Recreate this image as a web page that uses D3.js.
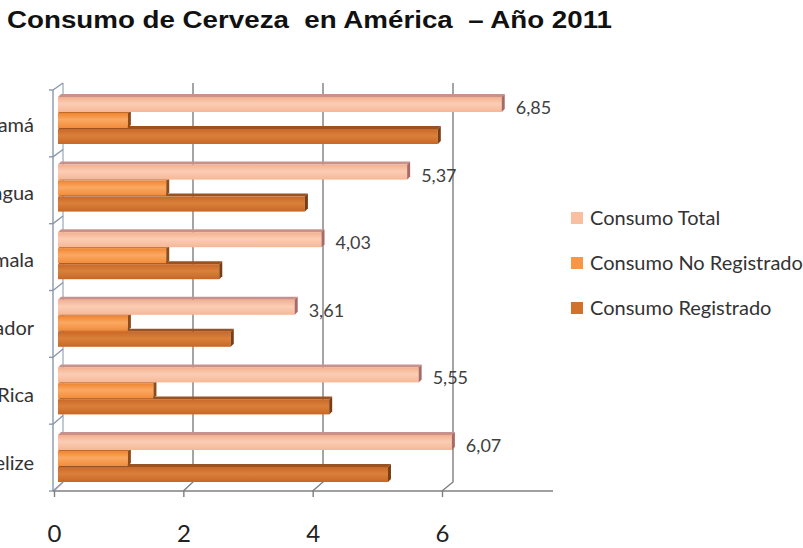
<!DOCTYPE html>
<html>
<head>
<meta charset="utf-8">
<script src="https://cdn.jsdelivr.net/npm/d3@7"></script>
<style>
  html, body { margin: 0; padding: 0; background: #ffffff; }
  svg { display: block; }
</style>
</head>
<body>
<svg id="chart" width="803" height="548"></svg>
<script>
// ---- data ----
const categories = ["Panamá", "Nicaragua", "Guatemala", "El Salvador", "Costa Rica", "Belize"];
const consumoTotal = [6.85, 5.37, 4.03, 3.61, 5.55, 6.07];
const consumoNoRegistrado = [1.0, 1.6, 1.6, 1.0, 1.4, 1.0];
const consumoRegistrado = [5.85, 3.77, 2.43, 2.61, 4.15, 5.07];
const seriesNames = ["Consumo Total", "Consumo No Registrado", "Consumo Registrado"];
const xTicks = [0, 2, 4, 6];
const titleText = "Consumo de Cerveza  en América  \u2013 Año 2011";

const seriesValues = [consumoTotal, consumoNoRegistrado, consumoRegistrado];
const seriesStyle = [
  { front: ["#f4b08f", "#fbcdb4", "#f6b797"], top: "#c8928a", cap: "#a86a64", legend: "#f9bfa0" },
  { front: ["#ef8530", "#fba862", "#f28c3a"], top: "#c06a2a", cap: "#8e4c1a", legend: "#f79646" },
  { front: ["#c9692a", "#da803a", "#c86727"], top: "#9a5220", cap: "#7a3e14", legend: "#d0722c" }
];

const svg = d3.select("#chart");

// ---- scales (front plane, back wall, bar plane) ----
const xFront = d3.scaleLinear().domain([0, 6]).range([54, 442]);
const xBack = d3.scaleLinear().domain([0, 6]).range([63, 453]);
const xBar = d3.scaleLinear().domain([0, 6]).range([64, 447.4]);
const yFront = d3.scaleBand().domain(categories).range([90, 491]);
const yBack = d3.scaleBand().domain(categories).range([83, 482]);
const yBar = d3.scaleBand().domain(categories).range([84.2, 489.8]).paddingInner(0.29).paddingOuter(0.145);
const ySub = d3.scaleBand().domain(seriesNames).range([0, yBar.bandwidth()]);

const depth = 3;

// gradients
const defs = svg.append("defs");
seriesStyle.forEach((s, i) => {
  const g = defs.append("linearGradient").attr("id", "g" + i)
    .attr("x1", 0).attr("y1", 0).attr("x2", 0).attr("y2", 1);
  g.append("stop").attr("offset", "0%").attr("stop-color", s.front[0]);
  g.append("stop").attr("offset", "45%").attr("stop-color", s.front[1]);
  g.append("stop").attr("offset", "100%").attr("stop-color", s.front[2]);
});

// ---- title ----
svg.append("text")
  .attr("x", 7).attr("y", 28)
  .attr("xml:space", "preserve")
  .style("white-space", "pre")
  .attr("font-family", "Liberation Sans, Arial, sans-serif")
  .attr("font-weight", "bold")
  .attr("font-size", 23)
  .attr("textLength", 605)
  .attr("lengthAdjust", "spacingAndGlyphs")
  .attr("fill", "#111")
  .text(titleText);

// ---- back wall gridlines & floor connectors ----
const grid = svg.append("g").attr("stroke-width", 1.4).attr("fill", "none");
xTicks.forEach(t => {
  const xb = xBack(t), xf = xFront(t);
  grid.append("path")
    .attr("d", `M${xb},${yBack.range()[0]} L${xb},${yBack.range()[1]} L${xf},${yFront.range()[1]}`)
    .attr("stroke", t === 0 ? "#a9b4c2" : "#7f7f7f");
});

// ---- left axis (front) with category ticks ----
const leftAxis = svg.append("g").attr("fill", "none").attr("stroke", "#8a98aa").attr("stroke-width", 1.4);
leftAxis.append("line")
  .attr("x1", xFront(0) - 1).attr("x2", xFront(0) - 1)
  .attr("y1", yFront.range()[0]).attr("y2", yFront.range()[1]);
const boundaries = categories.map(c => yFront(c)).concat([yFront.range()[1]]);
boundaries.forEach((y, i) => {
  leftAxis.append("line").attr("x1", xFront(0) - 5).attr("x2", xFront(0) - 1).attr("y1", y).attr("y2", y);
  const yb = i < categories.length ? yBack(categories[i]) : yBack.range()[1];
  leftAxis.append("line").attr("x1", xFront(0) - 1).attr("y1", y).attr("x2", xBack(0)).attr("y2", yb);
});

// ---- bottom axis ----
const axisG = svg.append("g")
  .attr("transform", `translate(0,${yFront.range()[1]})`)
  .call(d3.axisBottom(xFront).tickValues(xTicks).tickSize(6).tickPadding(28).tickFormat(d3.format("d")));
axisG.select(".domain").remove();
axisG.selectAll(".tick line").attr("stroke", "#7f7f7f").attr("stroke-width", 1.4);
axisG.selectAll(".tick text")
  .attr("font-family", "Lato, sans-serif")
  .attr("font-size", 24)
  .attr("fill", "#222");
svg.append("line")
  .attr("x1", xFront(0) - 1).attr("x2", 553)
  .attr("y1", yFront.range()[1]).attr("y2", yFront.range()[1])
  .attr("stroke", "#7f7f7f").attr("stroke-width", 1.6);

// ---- category labels (cut at the left edge, as in the reference) ----
svg.append("g").selectAll("text").data(categories).join("text")
  .attr("x", 34)
  .attr("y", d => yBar(d) + yBar.bandwidth() / 2 + 14)
  .attr("text-anchor", "end")
  .attr("font-family", "Lato, sans-serif")
  .attr("font-size", 20)
  .attr("fill", "#333")
  .text(d => d);

// ---- 3D bars ----
const barsG = svg.append("g");
const barStart = xFront(0) + 4;
categories.forEach((cat, ci) => {
  // draw from bottom series to top so upper bars cover lower top faces
  for (let si = seriesNames.length - 1; si >= 0; si--) {
    const v = seriesValues[si][ci];
    const s = seriesStyle[si];
    const y = yBar(cat) + ySub(seriesNames[si]);
    const h = ySub.bandwidth();
    const x0 = barStart, x1 = xBar(v);
    const g = barsG.append("g");
    g.append("path")
      .attr("d", `M${x0},${y + depth} L${x0 + depth},${y} L${x1 + depth},${y} L${x1},${y + depth} Z`)
      .attr("fill", s.top);
    g.append("rect")
      .attr("x", x0).attr("y", y + depth)
      .attr("width", x1 - x0).attr("height", h - 1)
      .attr("fill", `url(#g${si})`);
    g.append("path")
      .attr("d", `M${x1},${y + depth} L${x1 + depth},${y} L${x1 + depth},${y + h - 1} L${x1},${y + h - 1 + depth} Z`)
      .attr("fill", s.cap);
  }
});

// ---- value labels (total) ----
svg.append("g").selectAll("text").data(categories).join("text")
  .attr("x", (d, i) => xBar(consumoTotal[i]) + 14)
  .attr("y", d => yBar(d) + ySub(seriesNames[0]) + 20)
  .attr("font-family", "Lato, sans-serif")
  .attr("font-size", 18)
  .attr("fill", "#404040")
  .text((d, i) => consumoTotal[i].toFixed(2).replace(".", ","));

// ---- legend ----
const legendY = [218, 263, 308];
const lg = svg.append("g");
seriesNames.forEach((name, i) => {
  lg.append("rect")
    .attr("x", 571).attr("y", legendY[i] - 6)
    .attr("width", 12).attr("height", 12)
    .attr("fill", seriesStyle[i].legend);
  lg.append("text")
    .attr("x", 590).attr("y", legendY[i] + 7)
    .attr("font-family", "Lato, sans-serif")
    .attr("font-size", 20)
    .attr("fill", "#333")
    .text(name);
});
</script>
</body>
</html>
